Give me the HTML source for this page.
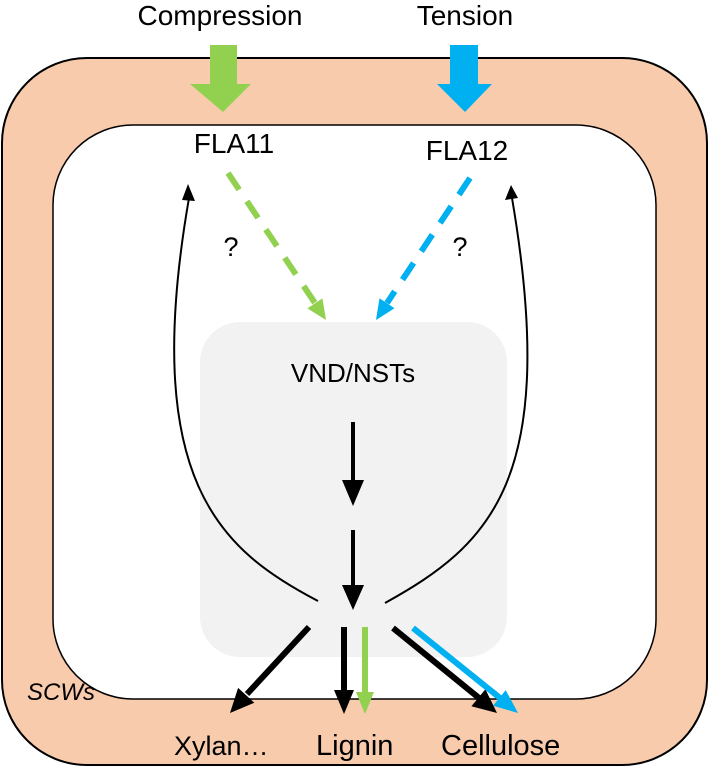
<!DOCTYPE html>
<html><head><style>
html,body{margin:0;padding:0;background:#fff;}
svg{display:block;}
text{font-family:"Liberation Sans",sans-serif;fill:#000;}
</style></head><body>
<svg width="709" height="767" viewBox="0 0 709 767">
<rect x="2" y="58" width="705" height="707" rx="85" fill="#f8cbad" stroke="#000" stroke-width="2"/>
<rect x="53" y="125" width="603" height="574" rx="80" fill="#fff" stroke="#000" stroke-width="1.5"/>
<rect x="200" y="322" width="307" height="335" rx="40" fill="#f2f2f2"/>
<path d="M210,45H237V84H251L223,112L190,84H210Z" fill="#92d050"/>
<path d="M450,45H478V84H492L465,112L437,84H450Z" fill="#00b0f0"/>
<text x="220" y="25" font-size="28" text-anchor="middle">Compression</text>
<text x="465" y="25" font-size="28" text-anchor="middle">Tension</text>
<text x="234" y="153" font-size="28" text-anchor="middle">FLA11</text>
<text x="467" y="160" font-size="28" text-anchor="middle">FLA12</text>
<text x="231" y="256" font-size="27" text-anchor="middle">?</text>
<text x="460" y="256" font-size="27" text-anchor="middle">?</text>
<text x="353" y="382" font-size="26" text-anchor="middle">VND/NSTs</text>
<line x1="228" y1="173" x2="315" y2="303" stroke="#92d050" stroke-width="6" stroke-dasharray="20,14"/>
<polygon points="326,320 307.4,308.4 322.4,298.4" fill="#92d050"/>
<line x1="470" y1="178" x2="387" y2="303" stroke="#00b0f0" stroke-width="6" stroke-dasharray="20,14"/>
<polygon points="376,320 394.5,308.3 379.5,298.3" fill="#00b0f0"/>
<line x1="353" y1="422" x2="353" y2="482" stroke="#000" stroke-width="4"/>
<polygon points="353,506 342,480 364,480" fill="#000"/>
<line x1="353" y1="530" x2="353" y2="587" stroke="#000" stroke-width="4"/>
<polygon points="353,610 342,585 364,585" fill="#000"/>
<path d="M318,601C220,550 140,480 189,198" fill="none" stroke="#000" stroke-width="2"/>
<polygon points="188,184 182,200 195,201" fill="#000"/>
<path d="M385,603C490,545 560,480 512,198" fill="none" stroke="#000" stroke-width="2"/>
<polygon points="511,185 505,200 518,198" fill="#000"/>
<line x1="309" y1="627" x2="247" y2="694" stroke="#000" stroke-width="6"/>
<polygon points="230,713 254.3,702.7 238.1,687.9" fill="#000"/>
<line x1="344" y1="627" x2="344" y2="692" stroke="#000" stroke-width="6"/>
<polygon points="344,714 334,690 354,690" fill="#000"/>
<line x1="365" y1="627" x2="365" y2="694" stroke="#92d050" stroke-width="6"/>
<polygon points="365,714 356,692 374,692" fill="#92d050"/>
<line x1="393" y1="628" x2="479" y2="698" stroke="#000" stroke-width="6"/>
<polygon points="497,713 471.4,706.3 485.4,689.3" fill="#000"/>
<line x1="413" y1="628" x2="500" y2="698" stroke="#00b0f0" stroke-width="6"/>
<polygon points="518,713 493.1,705.7 505.7,690.1" fill="#00b0f0"/>
<text x="174" y="755" font-size="27">Xylan…</text>
<text x="316" y="755" font-size="29">Lignin</text>
<text x="441" y="755" font-size="29">Cellulose</text>
<text x="27" y="700" font-size="24" font-style="italic">SCWs</text>
</svg>
</body></html>
